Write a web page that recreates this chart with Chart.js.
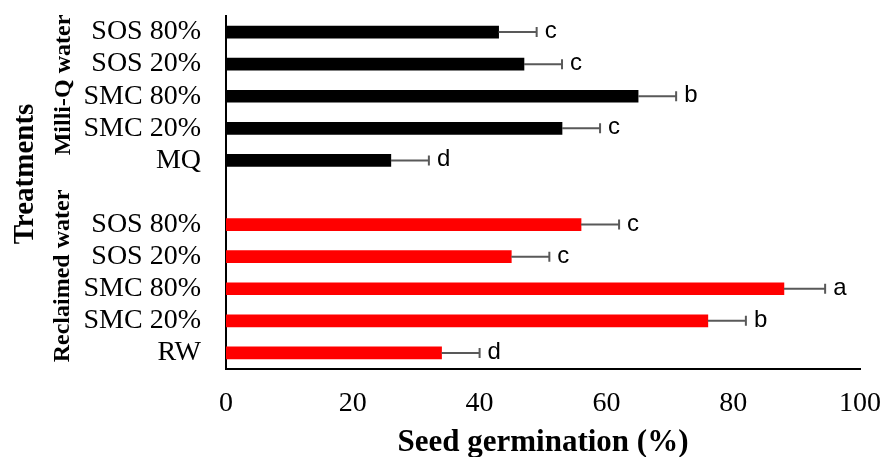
<!DOCTYPE html>
<html>
<head>
<meta charset="utf-8">
<script src="https://cdn.jsdelivr.net/npm/chart.js@4"></script>
<style>
  body { margin: 0; background: #fff; }
  #wrap { width: 884px; height: 457px; }
</style>
</head>
<body>
<div id="wrap"><canvas id="germChart"></canvas></div>
<script>
// treatments, top to bottom within each group
const milliQLabels = ['SOS 80%', 'SOS 20%', 'SMC 80%', 'SMC 20%', 'MQ'];
const reclaimedLabels = ['SOS 80%', 'SOS 20%', 'SMC 80%', 'SMC 20%', 'RW'];

// seed germination (%)
const milliQValues = [43, 47, 65, 53, 26];
const reclaimedValues = [56, 45, 88, 76, 34];

// standard error (drawn one-sided)
const milliQErrors = [6, 6, 6, 6, 6];
const reclaimedErrors = [6, 6, 6.5, 6, 6];

// significance letters
const milliQLetters = ['c', 'c', 'b', 'c', 'd'];
const reclaimedLetters = ['c', 'c', 'a', 'b', 'd'];

const xTicks = [0, 20, 40, 60, 80, 100];

// one empty slot between the two groups
const labels = [...milliQLabels, '', ...reclaimedLabels];
const values = [...milliQValues, null, ...reclaimedValues];
const errors = [...milliQErrors, null, ...reclaimedErrors];
const letters = [...milliQLetters, '', ...reclaimedLetters];
const colors = [...milliQValues.map(() => '#000000'), '#000000', ...reclaimedValues.map(() => '#ff0000')];

const errorBars = {
  id: 'errorBars',
  afterDatasetsDraw(chart) {
    const ctx = chart.ctx;
    const x = chart.scales.x;
    const meta = chart.getDatasetMeta(0);
    ctx.save();
    meta.data.forEach((bar, i) => {
      if (values[i] == null) return;
      const end = x.getPixelForValue(values[i] + errors[i]);
      ctx.strokeStyle = '#595959';
      ctx.lineWidth = 2;
      ctx.beginPath();
      ctx.moveTo(bar.x, bar.y);
      ctx.lineTo(end, bar.y);
      ctx.moveTo(end, bar.y - 5);
      ctx.lineTo(end, bar.y + 5);
      ctx.stroke();
      ctx.fillStyle = '#000';
      ctx.font = '24px "Liberation Sans"';
      ctx.textAlign = 'left';
      ctx.textBaseline = 'alphabetic';
      ctx.fillText(letters[i], end + 8, bar.y + 6);
    });
    ctx.restore();
  },
  afterDraw(chart) {
    const ctx = chart.ctx;
    const vtext = (txt, x, y, font) => {
      ctx.save();
      ctx.translate(x, y);
      ctx.rotate(-Math.PI / 2);
      ctx.font = font;
      ctx.fillStyle = '#000';
      ctx.textAlign = 'center';
      ctx.textBaseline = 'alphabetic';
      ctx.fillText(txt, 0, 0);
      ctx.restore();
    };
    vtext('Treatments', 33, 174, 'bold 29px "Liberation Serif"');
    vtext('Milli-Q water', 70, 85, 'bold 24px "Liberation Serif"');
    vtext('Reclaimed water', 69, 276, 'bold 24px "Liberation Serif"');
  }
};

new Chart(document.getElementById('germChart'), {
  type: 'bar',
  data: {
    labels: labels,
    datasets: [{
      data: values,
      backgroundColor: colors,
      barThickness: 12,
      borderWidth: 0
    }]
  },
  options: {
    indexAxis: 'y',
    responsive: true,
    maintainAspectRatio: false,
    animation: false,
    layout: { padding: 0 },
    plugins: { legend: { display: false }, tooltip: { enabled: false } },
    scales: {
      x: {
        min: 0,
        max: 100,
        afterBuildTicks: s => { s.ticks = xTicks.map(v => ({ value: v })); },
        afterFit: s => { s.height = 88; s.paddingLeft = 0; s.paddingRight = 0; },
        grid: { display: false, drawTicks: false },
        border: { display: true, color: '#000', width: 2 },
        ticks: {
          padding: 18,
          color: '#000',
          font: { family: 'Liberation Serif', size: 28 }
        },
        title: {
          display: true,
          text: 'Seed germination (%)',
          color: '#000',
          padding: 0,
          font: { family: 'Liberation Serif', size: 31, weight: 'bold', lineHeight: 0.9 }
        }
      },
      y: {
        afterFit: s => { s.width = 226; s.paddingTop = 0; s.paddingBottom = 0; },
        grid: { display: false, drawTicks: false },
        border: { display: true, color: '#000', width: 2 },
        ticks: {
          padding: 25,
          color: '#000',
          autoSkip: false,
          font: { family: 'Liberation Serif', size: 28 }
        }
      }
    }
  },
  plugins: [errorBars, {
    id: 'area',
    beforeLayout(chart) {
      // leave room for the plot frame: top 16, right 24
      chart.options.layout.padding = { top: 16, right: 24, bottom: 0, left: 0 };
    }
  }]
});
</script>
</body>
</html>
